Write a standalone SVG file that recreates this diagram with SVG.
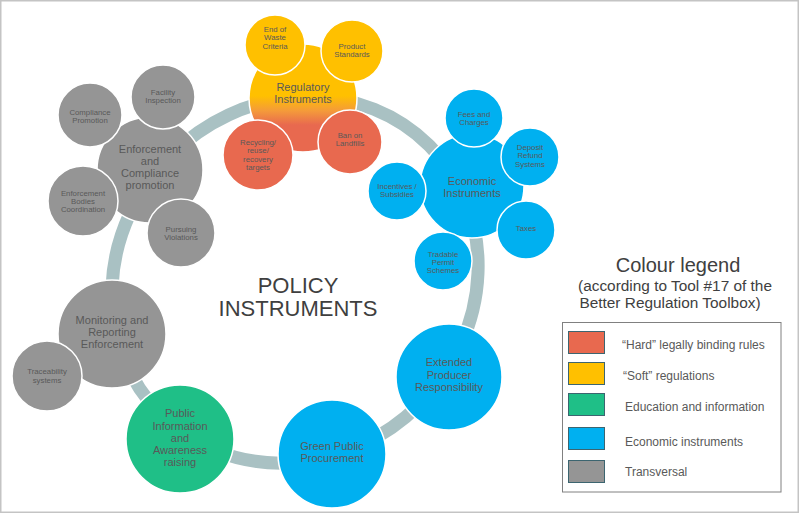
<svg xmlns="http://www.w3.org/2000/svg" width="800" height="514" viewBox="0 0 800 514">
<defs>
<style>
text{font-family:"Liberation Sans",Arial,sans-serif;fill:#595959;text-anchor:middle}
.main{font-size:11px}
.sm{font-size:7.8px}
.c{stroke:#fff;stroke-width:1.5}
.gray{fill:#959595}
.red{fill:#e8694f}
.yel{fill:#ffc000}
.blue{fill:#00b0f0}
.green{fill:#1fbf87}
.leg{font-size:12px;text-anchor:start}
.sw{stroke:#3c6570;stroke-width:1}
</style>
<linearGradient id="regGrad" x1="0" y1="0" x2="0" y2="1">
<stop offset="0" stop-color="#ffc000"/>
<stop offset="0.48" stop-color="#ffc000"/>
<stop offset="0.62" stop-color="#f49a3a"/>
<stop offset="0.75" stop-color="#e8694f"/>
<stop offset="1" stop-color="#e8694f"/>
</linearGradient>
</defs>
<rect x="0.75" y="0.75" width="797.5" height="511.5" fill="#fff" stroke="#c4c4c4" stroke-width="1.5"/>
<g id="connectors">
<ellipse cx="295" cy="280" rx="190" ry="176" transform="rotate(-45 295 280)" fill="none" stroke="#a9c1c3" stroke-width="13"/>
</g>
<text x="298" y="293" style="font-size:22px;fill:#3f3f3f">POLICY</text>
<text x="298" y="316" style="font-size:22px;fill:#3f3f3f">INSTRUMENTS</text>

<g id="enforcement">
<circle class="c gray" cx="150" cy="170" r="53"/>
<text class="main"><tspan x="150" y="153">Enforcement</tspan><tspan x="150" y="165">and</tspan><tspan x="150" y="177">Compliance</tspan><tspan x="150" y="189">promotion</tspan></text>
</g>
<g id="facility-inspection">
<circle class="c gray" cx="163" cy="97" r="32"/>
<text class="sm"><tspan x="163" y="95">Facility</tspan><tspan x="163" y="103">Inspection</tspan></text>
</g>
<g id="compliance-promotion">
<circle class="c gray" cx="90" cy="115" r="32"/>
<text class="sm"><tspan x="90" y="115">Compliance</tspan><tspan x="90" y="123">Promotion</tspan></text>
</g>
<g id="enforcement-bodies">
<circle class="c gray" cx="83" cy="201" r="35"/>
<text class="sm"><tspan x="83" y="196">Enforcement</tspan><tspan x="83" y="204">Bodies</tspan><tspan x="83" y="212">Coordination</tspan></text>
</g>
<g id="pursuing-violations">
<circle class="c gray" cx="181" cy="233" r="34"/>
<text class="sm"><tspan x="181" y="232">Pursuing</tspan><tspan x="181" y="240">Violations</tspan></text>
</g>

<g id="regulatory">
<circle cx="303" cy="98" r="54" fill="url(#regGrad)" stroke="#fff" stroke-width="1.5"/>
<text class="main"><tspan x="303" y="91">Regulatory</tspan><tspan x="303" y="103">Instruments</tspan></text>
</g>
<g id="end-of-waste">
<circle class="c yel" cx="275" cy="45" r="30"/>
<text class="sm"><tspan x="275" y="32">End of</tspan><tspan x="275" y="40">Waste</tspan><tspan x="275" y="48.5">Criteria</tspan></text>
</g>
<g id="product-standards">
<circle class="c yel" cx="352" cy="51" r="31"/>
<text class="sm"><tspan x="352" y="48.5">Product</tspan><tspan x="352" y="57">Standards</tspan></text>
</g>
<g id="recycling-targets">
<circle class="c red" cx="258" cy="155" r="35"/>
<text class="sm"><tspan x="258" y="144.5">Recycling/</tspan><tspan x="258" y="153">reuse/</tspan><tspan x="258" y="161.5">recovery</tspan><tspan x="258" y="170">targets</tspan></text>
</g>
<g id="ban-on-landfills">
<circle class="c red" cx="350" cy="142" r="32"/>
<text class="sm"><tspan x="350" y="137.5">Ban on</tspan><tspan x="350" y="146">Landfills</tspan></text>
</g>

<g id="economic">
<circle class="c blue" cx="472" cy="186" r="52"/>
<text class="main"><tspan x="472" y="185">Economic</tspan><tspan x="472" y="197">Instruments</tspan></text>
</g>
<g id="fees-charges">
<circle class="c blue" cx="474" cy="118" r="29"/>
<text class="sm"><tspan x="474" y="116.5">Fees and</tspan><tspan x="474" y="125">Charges</tspan></text>
</g>
<g id="deposit-refund">
<circle class="c blue" cx="530" cy="157" r="29"/>
<text class="sm"><tspan x="530" y="150">Deposit</tspan><tspan x="530" y="158">Refund</tspan><tspan x="530" y="166.5">Systems</tspan></text>
</g>
<g id="taxes">
<circle class="c blue" cx="526" cy="230" r="29"/>
<text class="sm" x="526" y="231">Taxes</text>
</g>
<g id="tradable-permit">
<circle class="c blue" cx="443" cy="261" r="29"/>
<text class="sm"><tspan x="443" y="256.5">Tradable</tspan><tspan x="443" y="265">Permit</tspan><tspan x="443" y="273">Schemes</tspan></text>
</g>
<g id="incentives">
<circle class="c blue" cx="397" cy="191" r="29"/>
<text class="sm"><tspan x="397" y="189">Incentives /</tspan><tspan x="397" y="197">Subsidies</tspan></text>
</g>

<g id="epr">
<circle class="c blue" cx="449" cy="377" r="53"/>
<text class="main"><tspan x="449" y="366">Extended</tspan><tspan x="449" y="378.5">Producer</tspan><tspan x="449" y="391">Responsibility</tspan></text>
</g>
<g id="gpp">
<circle class="c blue" cx="332" cy="454" r="54"/>
<text class="main"><tspan x="332" y="449.5">Green Public</tspan><tspan x="332" y="462">Procurement</tspan></text>
</g>
<g id="public-information">
<circle class="c green" cx="180" cy="439" r="54"/>
<text class="main"><tspan x="180" y="417">Public</tspan><tspan x="180" y="429.5">Information</tspan><tspan x="180" y="442">and</tspan><tspan x="180" y="454">Awareness</tspan><tspan x="180" y="466">raising</tspan></text>
</g>
<g id="monitoring">
<circle class="c gray" cx="112" cy="334" r="54"/>
<text class="main"><tspan x="112" y="324">Monitoring  and</tspan><tspan x="112" y="336">Reporting</tspan><tspan x="112" y="348">Enforcement</tspan></text>
</g>
<g id="traceability">
<circle class="c gray" cx="47" cy="376" r="35"/>
<text class="sm"><tspan x="47" y="374">Traceability</tspan><tspan x="47" y="382.5">systems</tspan></text>
</g>

<g id="legend">
<text x="678" y="271.5" style="font-size:20px;fill:#404040">Colour legend</text>
<text x="675" y="290.5" style="font-size:15.4px;fill:#404040">(according to Tool #17 of the</text>
<text x="670" y="308" style="font-size:15.4px;fill:#404040">Better Regulation Toolbox)</text>
<rect x="562.5" y="322.5" width="218.5" height="169.5" fill="#fff" stroke="#808080" stroke-width="1"/>
<rect class="sw" x="568.5" y="331.5" width="36" height="22" fill="#e8694f"/>
<rect class="sw" x="568.5" y="362.5" width="36" height="22" fill="#ffc000"/>
<rect class="sw" x="568.5" y="393.5" width="36" height="22" fill="#1fbf87"/>
<rect class="sw" x="568.5" y="427.5" width="36" height="22" fill="#00b0f0"/>
<rect class="sw" x="568.5" y="460.5" width="36" height="22" fill="#959595"/>
<text class="leg" x="622" y="348.5">“Hard” legally binding rules</text>
<text class="leg" x="623" y="379.5">“Soft” regulations</text>
<text class="leg" x="625" y="411">Education and information</text>
<text class="leg" x="625" y="446">Economic instruments</text>
<text class="leg" x="625" y="476">Transversal</text>
</g>
</svg>
